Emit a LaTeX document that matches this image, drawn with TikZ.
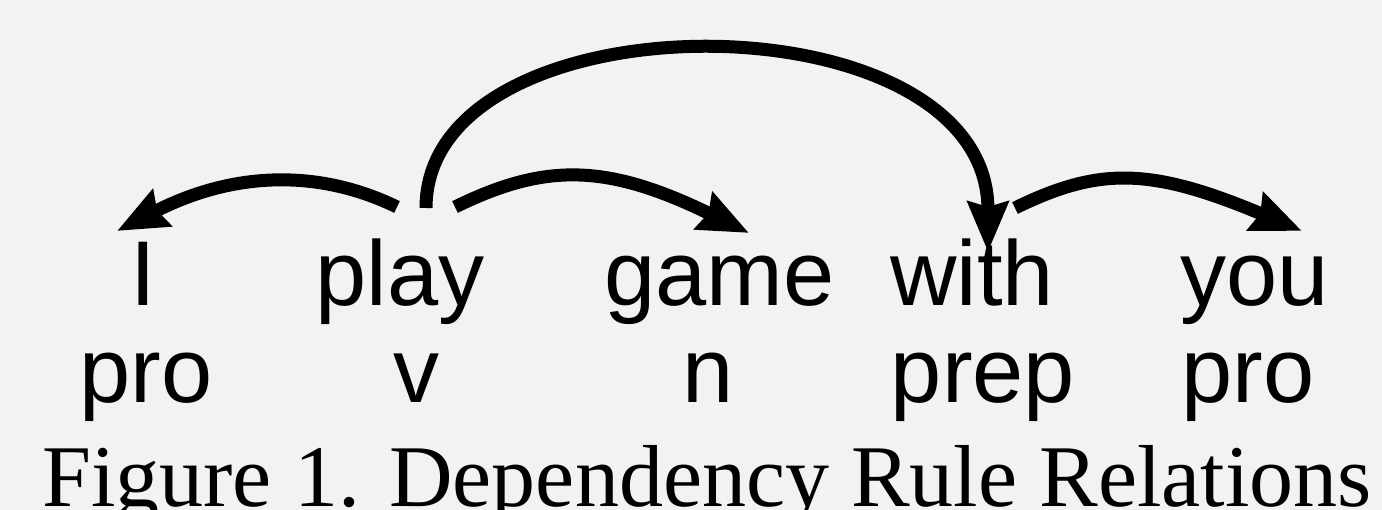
\documentclass[tikz,border=0pt]{standalone}
\usepackage{fontspec}
\setmainfont{Liberation Serif}
\newfontfamily\wordfont{Liberation Sans}
\usetikzlibrary{arrows.meta}
\definecolor{bg}{HTML}{F2F2F2}
\tikzset{
  word/.style={inner sep=0pt, anchor=base, font=\wordfont\fontsize{92}{110}\selectfont},
  captext/.style={inner sep=0pt, anchor=base, font=\fontsize{88}{100}\selectfont},
  dep/.style={line width=13pt, -{Stealth[length=50pt, width=40pt, inset=5pt]}}
}
\begin{document}
\begin{tikzpicture}[x=1pt, y=-1pt]
\fill[bg] (0,0) rectangle (1382,510);
\useasboundingbox (0,0) rectangle (1382,510);
% words
\node[word] (wI) at (143,306) {I};
\node[word] (wplay) at (400,306) {play};
\node[word] (wgame) at (719.5,306) {game};
\node[word] (wwith) at (972,306) {with};
\node[word] (wyou) at (1255,306) {you};
% tags
\node[word] (tI) at (146,403) {pro};
\node[word] (tplay) at (416,403) {v};
\node[word] (tgame) at (708,403) {n};
\node[word] (twith) at (983,403) {prep};
\node[word] (tyou) at (1248,403) {pro};
% caption
\node[captext] (cap) at (707,507) {Figure 1. Dependency Rule Relations};
% connector end points
\coordinate (playA) at (397,207);
\coordinate (playB) at (455,207);
\coordinate (playC) at (426,208);
\coordinate (Itop) at (117,231);
\coordinate (gametop) at (749,233);
\coordinate (withtop) at (988,252);
\coordinate (withA) at (1015,208);
\coordinate (youtop) at (1302,231);
% arrows
\draw[dep] (playA) .. controls (321,170) and (236,170) .. (Itop);
\draw[dep] (playB) .. controls (545,163) and (606,163) .. (gametop);
\draw[dep] (playC) .. controls (426,-8) and (988,-8) .. (withtop);
\draw[dep] (withA) .. controls (1099,167) and (1150,167) .. (youtop);
\end{tikzpicture}
\end{document}
